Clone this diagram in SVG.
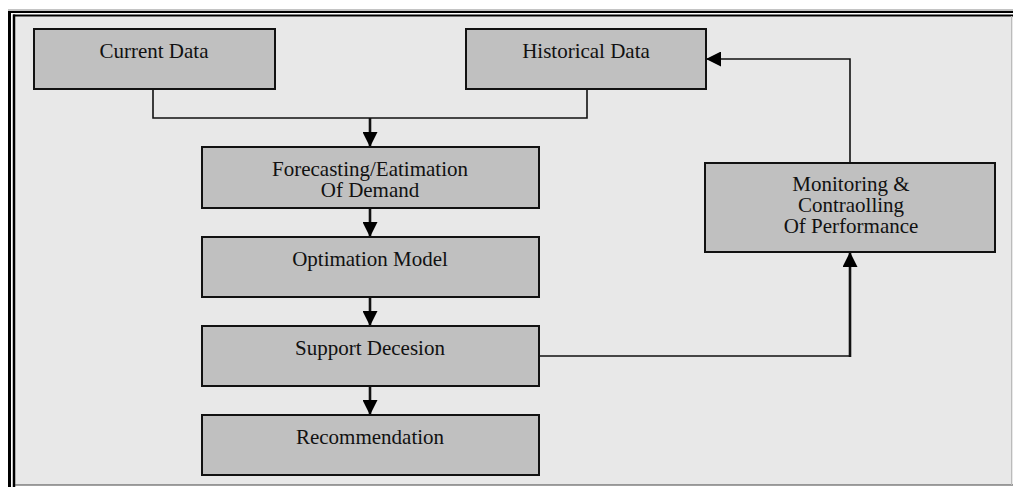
<svg xmlns="http://www.w3.org/2000/svg" width="1013" height="487" viewBox="0 0 1013 487">
<style>
.box{fill:#c0c0c0;stroke:#111;stroke-width:2}
.t{font-family:"Liberation Serif","Times New Roman",serif;font-size:21px;fill:#111;text-anchor:middle}
.ln{fill:none;stroke:#111;stroke-width:1.6}
.lnb{fill:none;stroke:#111;stroke-width:2.6}
</style>
<defs>
<marker id="ah" markerWidth="15" markerHeight="15" refX="15" refY="7.5" orient="auto" markerUnits="userSpaceOnUse">
<path d="M0,0 L15,7.5 L0,15 Z" fill="#000"/>
</marker>
</defs>
<rect x="0" y="0" width="1013" height="487" fill="#fff"/>
<g id="frame">
<rect x="15" y="16" width="1000" height="469" fill="#e8e8e8"/>
<line x1="8" y1="10" x2="1013" y2="10" stroke="#888" stroke-width="1"/>
<line x1="9.5" y1="12" x2="1013" y2="12" stroke="#000" stroke-width="2"/>
<line x1="9.5" y1="11" x2="9.5" y2="487" stroke="#000" stroke-width="3"/>
<line x1="13" y1="15.5" x2="1013" y2="15.5" stroke="#000" stroke-width="2"/>
<line x1="14" y1="14.5" x2="14" y2="487" stroke="#000" stroke-width="2.5"/>
<line x1="15" y1="485" x2="1013" y2="485" stroke="#444" stroke-width="1"/>
<line x1="1011.5" y1="16" x2="1011.5" y2="485" stroke="#bbb" stroke-width="1"/>
</g>
<g id="connectors">
<polyline class="ln" points="153,89 153,118 587,118 587,89"/>
<line class="lnb" x1="370" y1="118" x2="370" y2="147" marker-end="url(#ah)"/>
<line class="lnb" x1="370" y1="208" x2="370" y2="237" marker-end="url(#ah)"/>
<line class="lnb" x1="370" y1="297" x2="370" y2="326" marker-end="url(#ah)"/>
<line class="lnb" x1="370" y1="386" x2="370" y2="415" marker-end="url(#ah)"/>
<polyline class="ln" points="539,356 850,356"/>
<line class="lnb" x1="850" y1="357" x2="850" y2="252" marker-end="url(#ah)"/>
<polyline class="ln" points="850,163 850,59 706,59" marker-end="url(#ah)"/>
</g>
<g id="current-data">
<rect class="box" x="34" y="29" width="241" height="60"/>
<text class="t" x="154" y="58">Current Data</text>
</g>
<g id="historical-data">
<rect class="box" x="466" y="29" width="240" height="60"/>
<text class="t" x="586" y="58">Historical Data</text>
</g>
<g id="forecasting">
<rect class="box" x="202" y="147" width="337" height="61"/>
<text class="t" x="370" y="176">Forecasting/Eatimation</text>
<text class="t" x="370" y="197">Of Demand</text>
</g>
<g id="optimation-model">
<rect class="box" x="202" y="237" width="337" height="60"/>
<text class="t" x="370" y="266">Optimation Model</text>
</g>
<g id="support-decesion">
<rect class="box" x="202" y="326" width="337" height="60"/>
<text class="t" x="370" y="355">Support Decesion</text>
</g>
<g id="recommendation">
<rect class="box" x="202" y="415" width="337" height="60"/>
<text class="t" x="370" y="444">Recommendation</text>
</g>
<g id="monitoring">
<rect class="box" x="705" y="163" width="290" height="89"/>
<text class="t" x="851" y="191">Monitoring &amp;</text>
<text class="t" x="851" y="212">Contraolling</text>
<text class="t" x="851" y="233">Of Performance</text>
</g>
</svg>
